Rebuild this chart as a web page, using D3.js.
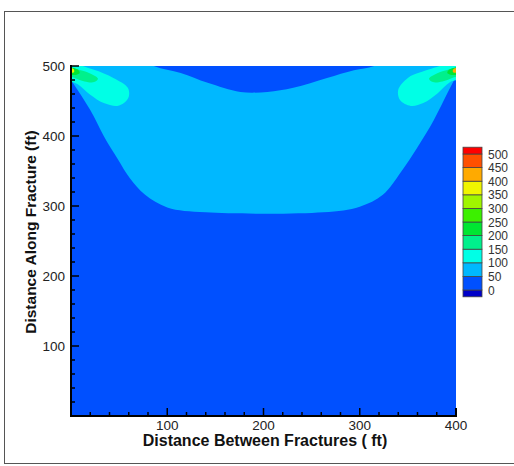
<!DOCTYPE html>
<html lang="en">
<head>
<meta charset="utf-8">
<title>Contour</title>
<script src="https://d3js.org/d3.v7.min.js"></script>
<style>
  body { margin: 0; background: #fff; }
  text { font-family: "Liberation Sans", Arial, sans-serif; }
</style>
</head>
<body>
<script>
// contour levels and their fill colours (below 0 ... above 500)
const levels = [0, 50, 100, 150, 200, 250, 300, 350, 400, 450, 500];
const levelColors = ["#0000c8", "#0050ff", "#00b8ff", "#00ffe6", "#00f08c", "#00e632",
                     "#3cf000", "#a0f500", "#f0f500", "#ffaa00", "#ff5000", "#ff0000"];

const xTicks = [100, 200, 300, 400];
const yTicks = [100, 200, 300, 400, 500];

// region boundaries, in ft (x, y)
const band50 = [[-20,520],[420,520],[400,484],[391,461],[377,423],[360,384],[343,349],
  [324,316],[300,299],[262,291],[140,291],[100,298],[77,316],[61,340],[49,366],
  [34,400],[20,437],[0,480]];
const bowl0 = [[60,520],[86,500],[114,490],[142,476],[176,463],[204,463],[231,469],
  [266,483],[294,494],[315,500],[340,520]];
const lobeLeft = [[-10,505],[23,495],[44,483],[59,469],[60,456],[55,447],[48,443],
  [34,447],[20,459],[7,474],[-10,484]];
const lobeRight = [[410,505],[363,491],[350,483],[340,466],[342,451],[353,443],
  [366,447],[381,461],[394,477],[410,484]];
const greenLeft = [[-5,497],[10,494],[22,488],[28,482],[24,477],[14,478],[4,483],[-5,488]];
const greenRight = [[405,497],[390,494],[378,488],[372,482],[376,477],[386,478],[396,483],[405,488]];
const hotLeft = [[-3,498],[7,495],[9,490],[3,487],[-3,489]];
const hotRight = [[403,498],[393,495],[391,490],[397,487],[403,489]];
const coreLeft = [[-2,497],[3,495],[3,491],[-2,491]];
const coreRight = [[402,497],[397,495],[397,491],[402,491]];

const W = 514, H = 466;
const svg = d3.select("body").append("svg").attr("width", W).attr("height", H);

const x = d3.scaleLinear().domain([0, 400]).range([71, 456]);
const y = d3.scaleLinear().domain([0, 500]).range([416, 66]);

// frame
svg.append("rect").attr("x", 4.5).attr("y", 11.5).attr("width", 530).attr("height", 452)
  .attr("fill", "none").attr("stroke", "#555").attr("stroke-width", 1);

svg.append("clipPath").attr("id", "plotclip").append("rect")
  .attr("x", x(0)).attr("y", y(500)).attr("width", x(400) - x(0)).attr("height", y(0) - y(500));

const plot = svg.append("g").attr("clip-path", "url(#plotclip)");
const shape = d3.line().x(d => x(d[0])).y(d => y(d[1])).curve(d3.curveCatmullRomClosed.alpha(0.5));

plot.append("rect").attr("x", x(0)).attr("y", y(500))
  .attr("width", x(400) - x(0)).attr("height", y(0) - y(500)).attr("fill", levelColors[1]);

const layers = [
  [band50, 2], [bowl0, 1], [lobeLeft, 3], [lobeRight, 3],
  [greenLeft, 4], [greenRight, 4], [hotLeft, 5], [hotRight, 5],
  [coreLeft, 8], [coreRight, 9]
];
layers.forEach(([pts, c]) => {
  plot.append("path").attr("d", shape(pts)).attr("fill", levelColors[c]);
});

// axes with inward ticks
const xAxis = svg.append("g").attr("transform", `translate(0,${y(0)})`);
xAxis.selectAll("line.minor").data(d3.range(20, 400, 20)).join("line")
  .attr("x1", d => x(d)).attr("x2", d => x(d)).attr("y1", 0)
  .attr("y2", d => xTicks.includes(d) ? -8 : -4).attr("stroke", "#000").attr("stroke-width", 1.5);
xAxis.append("line").attr("x1", x(400)).attr("x2", x(400)).attr("y1", 0).attr("y2", -8)
  .attr("stroke", "#000").attr("stroke-width", 2);
xAxis.append("line").attr("x1", x(0) - 1).attr("x2", x(400) + 1).attr("stroke", "#000").attr("stroke-width", 2);
xAxis.selectAll("text").data(xTicks).join("text")
  .attr("x", d => x(d)).attr("y", 13.5).attr("text-anchor", "middle")
  .attr("font-size", "13.5px").attr("fill", "#222").text(d => d);

const yAxis = svg.append("g").attr("transform", `translate(${x(0)},0)`);
yAxis.selectAll("line.minor").data(d3.range(20, 520, 20)).join("line")
  .attr("y1", d => y(d)).attr("y2", d => y(d)).attr("x1", 0)
  .attr("x2", d => yTicks.includes(d) ? 8 : 4).attr("stroke", "#000").attr("stroke-width", 1.5);
yAxis.append("line").attr("y1", y(0) + 1).attr("y2", y(500) - 1).attr("stroke", "#000").attr("stroke-width", 2);
yAxis.selectAll("text").data(yTicks).join("text")
  .attr("x", -6).attr("y", d => y(d) + 5).attr("text-anchor", "end")
  .attr("font-size", "13.5px").attr("fill", "#222").text(d => d);

// axis titles
svg.append("text").attr("x", 265).attr("y", 446).attr("text-anchor", "middle")
  .attr("font-size", "16px").attr("font-weight", "bold").attr("fill", "#111")
  .text("Distance Between Fractures ( ft)");
svg.append("text").attr("transform", "translate(36,232) rotate(-90)").attr("text-anchor", "middle")
  .attr("font-size", "15.5px").attr("font-weight", "bold").attr("fill", "#111")
  .text("Distance Along Fracture (ft)");

// legend
const ly = d3.scaleLinear().domain([0, 500]).range([290, 154]);
const lx = 463, lw = 19;
const bounds = [-25].concat(levels, [525]);
const legend = svg.append("g");
levelColors.forEach((c, i) => {
  const top = Math.max(ly(bounds[i + 1]), 146), bot = Math.min(ly(bounds[i]), 297);
  legend.append("rect").attr("x", lx).attr("y", top).attr("width", lw).attr("height", bot - top)
    .attr("fill", c).attr("stroke", "#444").attr("stroke-width", 0.8);
});
legend.selectAll("text").data(levels).join("text")
  .attr("x", 488).attr("y", d => ly(d) + 4.5).attr("font-size", "12px").attr("fill", "#333")
  .text(d => d);
</script>
</body>
</html>
